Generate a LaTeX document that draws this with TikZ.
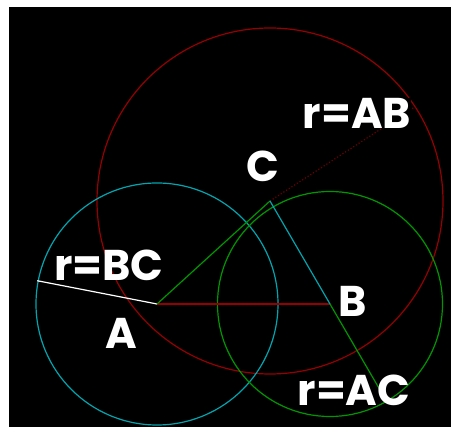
\documentclass[tikz,border=0pt]{standalone}
\usepackage{fontspec}
\setmainfont{Poppins}
\usepackage{xcolor}
\usetikzlibrary{calc}
\definecolor{cRed}{RGB}{150,0,0}
\definecolor{cCyan}{RGB}{0,165,175}
\definecolor{cGreen}{RGB}{0,150,0}
\tikzset{
  lbl/.style={text=white, font=\fontsize{43}{46}\selectfont\bfseries, inner sep=0pt},
  circ/.style={line width=1.2pt}
}

\begin{document}
\begin{tikzpicture}[x=1pt, y=-1pt]
            % background
            \fill[white] (0,0) rectangle (451,427);
            \fill[black] (9,7) rectangle (451,427);
            \useasboundingbox (0,0) rectangle (451,427);
            \coordinate (A) at (157,304);
            \coordinate (B) at (330,304);
            \coordinate (C) at (270,201);
            % circles
            \draw[circ, cRed] (C) circle (173);
            \draw[circ, cCyan] (A) circle (121);
            \draw[circ, cGreen] (B) circle (112.5);
            % radii
            \coordinate (rAB) at ($(C)+(-33:173)$);
            \coordinate (rBC) at ($(A)+(-169:122)$);
            \coordinate (rAC) at ($(B)+(59.8:112.5)$);
            \draw[circ, cRed!70!black, dotted] (C) -- (rAB);
            \draw[circ, white] (A) -- (rBC);
            \draw[circ, cRed] (A) -- (B);
            \draw[circ, cGreen] (A) -- (C);
            \draw[circ, cCyan] (C) -- (B);
            \draw[circ, cGreen] (B) -- (rAC);
            % labels
            \node[lbl, fill=black] (lAB) at (357,113) {r=AB};
            \node[lbl] (lC) at (263,166) {C};
            \node[lbl] (lBC) at (109,265) {r=BC};
            \node[lbl] (lA) at (121,333) {A};
            \node[lbl] (lB) at (353,301) {B};
            \node[lbl] (lAC) at (354,390) {r=AC};
\end{tikzpicture}
\end{document}
